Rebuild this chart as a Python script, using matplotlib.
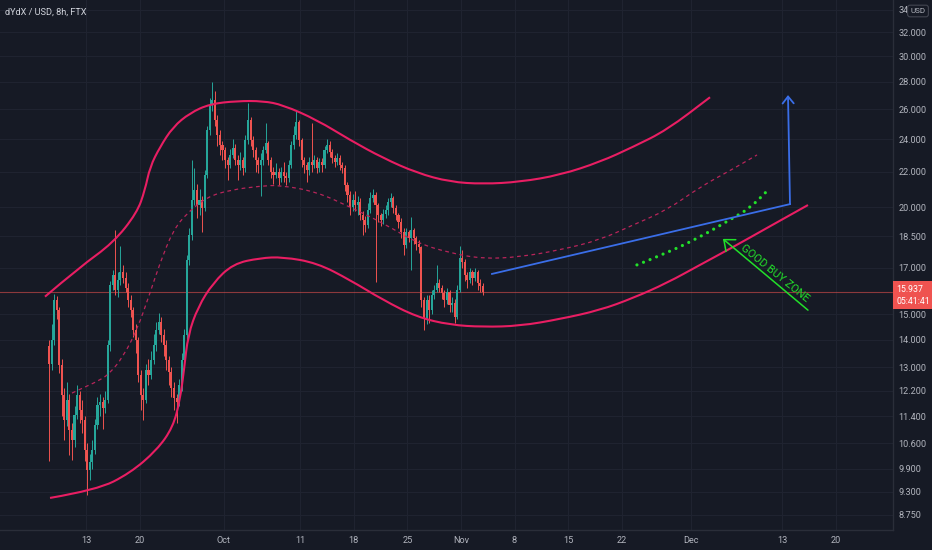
import matplotlib
matplotlib.use("Agg")  # headless backend: no display required
import matplotlib.pyplot as plt
from matplotlib.path import Path
from matplotlib.patches import PathPatch
from matplotlib.ticker import NullLocator, NullFormatter

# x axis unit: days since 2021-09-01 (8h candles start 2021-09-08 00:00)
first_candle_day = 7.0
candle_step = 1 / 3
first_open = 13.77

closes = [
    13.13, 13.99, 15.58, 15.16, 13.08, 12.07, 11.28, 11.91, 10.98, 10.69,
    11.44, 12.07, 11.59, 11.28, 10.41, 9.86, 10.08, 10.41, 11.13, 11.75,
    11.85, 11.65, 11.91, 13.80, 16.22, 16.66, 16.00, 16.44, 16.80, 16.53,
    16.09, 15.58, 15.16, 14.37, 13.99, 12.74, 12.07, 11.91, 12.91, 12.74,
    13.26, 13.80, 14.37, 14.68, 14.18, 13.80, 13.26, 12.84, 12.30, 11.97,
    11.85, 12.40, 13.26, 14.18, 17.35, 18.55, 20.38, 20.94, 20.11, 20.38,
    19.95, 21.80, 24.61, 26.32, 26.67, 25.28, 24.28, 23.64, 23.32, 22.70,
    22.40, 23.01, 23.45, 22.70, 22.40, 22.70, 22.22, 23.95, 25.28, 23.95,
    23.32, 22.70, 22.40, 22.70, 23.32, 23.76, 22.70, 21.98, 21.80, 21.98,
    21.63, 21.98, 21.74, 21.63, 22.40, 23.64, 24.28, 25.14, 23.95, 22.70,
    22.40, 22.10, 22.58, 22.40, 22.70, 22.22, 22.58, 22.40, 23.32, 23.64,
    23.20, 22.82, 22.58, 22.82, 22.40, 22.22, 21.22, 20.66, 20.00, 20.38,
    20.11, 20.27, 19.58, 19.32, 19.06, 19.84, 20.49, 20.66, 20.11, 19.58,
    19.32, 19.63, 19.84, 20.27, 20.49, 19.95, 19.58, 19.22, 18.71, 18.06,
    18.71, 18.41, 18.81, 18.41, 18.11, 17.96, 15.58, 14.84, 15.58, 15.16,
    15.79, 16.00, 16.31, 16.09, 15.87, 15.58, 15.92, 15.37, 15.46, 14.88,
    16.00, 17.44, 17.26, 16.66, 16.44, 16.80, 16.53, 16.80, 16.31, 16.18,
    15.937,
]
highs = [
    14.0, 14.6, 15.85, 15.75, 15.3, 13.3, 12.3, 12.5, 12.1, 11.2,
    11.7, 12.4, 12.2, 11.9, 11.4, 10.6, 10.3, 10.7, 11.3, 12.0,
    12.1, 12.0, 12.2, 14.0, 16.4, 16.9, 18.8, 16.8, 18.0, 17.1,
    16.8, 16.3, 15.8, 15.3, 14.6, 14.1, 12.9, 12.3, 13.1, 13.3,
    13.6, 14.2, 14.7, 15.04, 14.9, 14.4, 14.0, 13.4, 13.0, 12.5,
    12.1, 12.6, 13.5, 14.4, 17.6, 18.9, 22.7, 22.2, 21.3, 21.0,
    20.6, 22.1, 24.9, 26.8, 28.0, 27.3, 25.6, 24.6, 23.9, 23.5,
    22.9, 23.4, 24.0, 23.7, 23.0, 23.2, 22.9, 24.3, 26.46, 25.5,
    24.2, 23.5, 22.9, 23.1, 23.6, 25.07, 23.9, 22.9, 22.3, 22.5,
    22.2, 22.3, 22.6, 22.0, 22.7, 23.9, 24.9, 25.97, 25.3, 24.1,
    22.9, 22.6, 22.9, 25.07, 23.0, 22.9, 22.8, 22.8, 23.6, 24.0,
    23.9, 23.4, 23.0, 23.1, 23.0, 22.6, 22.4, 21.4, 20.9, 20.7,
    20.9, 20.6, 20.5, 19.8, 19.5, 20.2, 20.8, 21.0, 20.8, 20.2,
    19.7, 19.9, 20.1, 20.5, 20.77, 20.6, 20.1, 19.7, 19.4, 18.9,
    18.9, 18.8, 19.48, 18.9, 18.5, 18.3, 18.0, 15.7, 15.8, 15.8,
    16.0, 16.2, 17.12, 16.5, 16.2, 16.0, 16.1, 16.0, 15.7, 15.6,
    16.2, 18.0, 17.8, 17.4, 16.8, 17.0, 16.9, 17.0, 16.9, 16.5,
    16.3,
]
lows = [
    10.1, 12.9, 13.8, 14.8, 12.8, 11.4, 10.7, 11.1, 10.27, 10.13,
    10.5, 11.3, 11.2, 10.9, 10.1, 9.22, 9.6, 9.9, 10.3, 11.0,
    11.4, 11.0, 11.5, 11.8, 13.6, 16.0, 15.8, 15.7, 16.2, 16.3,
    15.9, 15.3, 14.9, 14.1, 13.5, 12.5, 11.6, 11.28, 11.8, 12.4,
    12.6, 13.1, 13.6, 14.2, 13.9, 13.4, 12.9, 12.4, 12.0, 11.6,
    11.2, 11.7, 12.2, 13.0, 14.0, 17.1, 18.3, 20.1, 19.4, 19.6,
    18.7, 19.8, 21.6, 24.3, 25.9, 24.9, 23.6, 23.0, 22.7, 22.2,
    21.5, 22.2, 22.8, 22.4, 21.5, 22.1, 21.8, 22.0, 23.7, 23.6,
    22.9, 22.0, 21.9, 20.6, 22.4, 23.1, 22.4, 21.6, 21.3, 21.6,
    21.2, 21.4, 21.4, 21.2, 21.4, 22.2, 23.4, 24.0, 23.6, 22.3,
    21.9, 21.4, 21.8, 22.0, 22.2, 21.9, 22.0, 22.0, 22.2, 23.1,
    22.9, 22.5, 22.3, 22.4, 22.1, 21.9, 20.9, 20.3, 19.6, 19.8,
    19.8, 19.6, 19.3, 18.55, 18.7, 18.9, 19.7, 20.3, 16.35, 19.2,
    19.0, 19.1, 19.4, 19.6, 20.0, 19.7, 19.3, 18.9, 18.4, 17.6,
    17.9, 18.2, 16.9, 18.1, 17.8, 17.7, 15.3, 14.37, 14.6, 14.65,
    15.0, 15.6, 15.9, 15.9, 15.6, 15.3, 15.4, 15.1, 15.1, 14.65,
    14.8, 15.9, 17.0, 16.4, 16.1, 16.3, 16.2, 16.4, 16.0, 15.9,
    15.8,
]
last_price = 15.937
countdown = "05:41:41"

price_ticks = [34, 32, 30, 28, 26, 24, 22, 20, 18.5, 17, 15, 14, 13,
               12.2, 11.4, 10.6, 9.9, 9.3, 8.75]
time_ticks = [12, 19, 30, 40, 47, 54, 61, 68, 75, 82, 91, 103, 110]
time_labels = ["13", "20", "Oct", "11", "18", "25", "Nov", "8", "15", "22",
               "Dec", "13", "20"]

# drawings (day, price)
upper_band_days = [6.64, 11.22, 15.53, 18.66, 19.71, 20.36, 21.67, 23.37,
                   25.59, 28.20, 31.73, 35.13, 37.74, 42.18, 46.50, 50.81,
                   55.25, 59.56, 63.88, 68.71, 73.94, 79.16, 83.48, 87.92, 93.54]
upper_band_prices = [15.72, 17.03, 18.16, 19.69, 20.94, 22.28, 23.51, 24.81,
                     25.76, 26.39, 26.60, 26.60, 26.32, 25.28, 23.95, 22.82,
                     21.92, 21.40, 21.28, 21.40, 21.80, 22.58, 23.51, 24.61, 26.87]
lower_band_days = [7.30, 13.44, 17.75, 21.28, 23.37, 24.28, 24.81, 25.33, 26.64,
                   28.60, 31.21, 34.74, 37.74, 42.18, 46.50, 50.81, 55.25,
                   59.56, 63.88, 68.71, 73.94, 79.16, 83.48, 87.92, 92.23,
                   96.54, 100.99, 106.34]
lower_band_prices = [9.15, 9.35, 9.78, 10.41, 11.07, 11.91, 12.91, 14.18, 15.29,
                     16.31, 17.17, 17.44, 17.49, 17.21, 16.44, 15.58, 14.88,
                     14.57, 14.49, 14.53, 14.80, 15.16, 15.66, 16.31, 17.12,
                     17.96, 18.91, 20.11]
mid_band_days = [10.17, 11.61, 13.83, 15.14, 16.83, 18.66, 20.36, 21.67, 23.37,
                 25.20, 27.81, 30.82, 34.74, 37.35, 42.18, 46.50, 50.81, 55.25,
                 59.56, 63.88, 68.71, 73.94, 79.16, 83.48, 87.92, 92.23, 96.54,
                 99.68]
mid_band_prices = [12.13, 12.30, 12.56, 12.80, 13.37, 14.37, 15.87, 17.21, 18.78,
                   19.68, 20.55, 20.94, 21.16, 21.22, 20.83, 20.00, 19.16, 18.16,
                   17.68, 17.40, 17.49, 17.82, 18.31, 19.06, 19.84, 21.11, 22.16,
                   23.01]
trend_days = [65.05, 103.99]
trend_prices = [16.71, 20.16]
target_days = [103.99, 103.73]
target_prices = [20.16, 27.03]
buy_dots_days = [83.99, 87.92, 92.23, 96.54, 98.77, 101.38]
buy_dots_prices = [17.12, 17.68, 18.45, 19.42, 19.95, 21.05]
buy_arrow_days = [106.34, 95.23]
buy_arrow_prices = [15.16, 18.36]
buy_text_day, buy_text_price = 102.0, 16.74

BG = "#161a25"
GRID = "#1f2330"
TEXT = "#b2b5be"
UP = "#26a69a"
DOWN = "#ef5350"
PINK = "#e91e63"
BLUE = "#3a6ee8"
GREEN = "#22e02a"
FONT = ["Roboto", "DejaVu Sans"]


def smooth_path(days, prices):
    # quadratic bezier through midpoints (geometric mean on the log axis)
    pts = list(zip(days, prices))
    verts = [pts[0]]
    codes = [Path.MOVETO]
    for i in range(1, len(pts) - 1):
        d0, p0 = pts[i]
        d1, p1 = pts[i + 1]
        verts += [pts[i], ((d0 + d1) / 2, (p0 * p1) ** 0.5)]
        codes += [Path.CURVE3, Path.CURVE3]
    verts.append(pts[-1])
    codes.append(Path.LINETO)
    return Path(verts, codes)


def draw_candles(ax):
    opens = [first_open] + closes[:-1]
    for i, (o, h, l, c) in enumerate(zip(opens, highs, lows, closes)):
        x = first_candle_day + candle_step * (i + 0.5)
        color = UP if c >= o else DOWN
        ax.vlines(x, l, h, color=color, lw=0.7, zorder=3)
        lo, hi = min(o, c), max(o, c)
        ax.bar(x, max(hi - lo, 0.04), bottom=lo, width=0.27, color=color,
               linewidth=0, zorder=4)


def draw_annotations(ax):
    ax.add_patch(PathPatch(smooth_path(upper_band_days, upper_band_prices),
                           fill=False, ec=PINK, lw=1.5, zorder=5))
    ax.add_patch(PathPatch(smooth_path(lower_band_days, lower_band_prices),
                           fill=False, ec=PINK, lw=1.5, zorder=5))
    ax.add_patch(PathPatch(smooth_path(mid_band_days, mid_band_prices),
                           fill=False, ec="#b8255a", lw=0.9, ls=(0, (3, 2.8)),
                           zorder=5))
    ax.add_patch(PathPatch(smooth_path(buy_dots_days, buy_dots_prices),
                           fill=False, ec=GREEN, lw=2.3, ls=(0, (0.01, 2.2)),
                           capstyle="round", zorder=6))

    ax.plot(trend_days, trend_prices, color=BLUE, lw=1.3, zorder=6)
    ax.annotate("", xy=(target_days[1], target_prices[1]),
                xytext=(target_days[0], target_prices[0]),
                arrowprops=dict(arrowstyle="->,head_length=0.5,head_width=0.4",
                                color=BLUE, lw=1.3, shrinkA=0, shrinkB=0,
                                mutation_scale=10), zorder=6)

    ax.annotate("", xy=(buy_arrow_days[1], buy_arrow_prices[1]),
                xytext=(buy_arrow_days[0], buy_arrow_prices[0]),
                arrowprops=dict(arrowstyle="->,head_length=0.6,head_width=0.5",
                                color=GREEN, lw=1.1, shrinkA=0, shrinkB=0,
                                mutation_scale=11), zorder=6)
    ax.text(buy_text_day, buy_text_price, "GOOD BUY ZONE", color=GREEN,
            fontsize=8, family=FONT, rotation=-39, rotation_mode="anchor",
            ha="center", va="center", zorder=7)

    ax.axhline(last_price, color=DOWN, lw=0.8, alpha=0.55, zorder=2)
    ax.annotate(f"{last_price:.3f}\n{countdown}", xy=(1.0, last_price),
                xycoords=("axes fraction", "data"), xytext=(2.5, 5.0),
                textcoords="offset points", ha="left", va="top", color="white",
                fontsize=6.3, family=FONT, linespacing=1.45,
                bbox=dict(boxstyle="square,pad=0.4", fc=DOWN, ec="none"),
                annotation_clip=False, zorder=8)


def main():
    fig = plt.figure(figsize=(9.32, 5.5), dpi=100, facecolor=BG)
    ax = fig.add_axes([0, 20 / 550, 893 / 932, 530 / 550], facecolor=BG)
    ax.set_yscale("log")
    ax.set_xlim(0.763, 117.45)
    ax.set_ylim(8.394, 34.90)

    ax.set_yticks(price_ticks)
    ax.set_yticklabels([f"{v:.3f}" for v in price_ticks])
    ax.yaxis.set_minor_locator(NullLocator())
    ax.yaxis.set_minor_formatter(NullFormatter())
    ax.yaxis.tick_right()
    ax.set_xticks(time_ticks)
    ax.set_xticklabels(time_labels)
    ax.tick_params(axis="y", length=0, pad=4, labelsize=6.6, colors=TEXT)
    ax.tick_params(axis="x", length=0, pad=4.5, labelsize=6.6, colors=TEXT)
    for lab in ax.get_xticklabels() + ax.get_yticklabels():
        lab.set_family(FONT)
    ax.grid(True, color=GRID, lw=0.8, zorder=0)
    ax.set_axisbelow(True)
    for side in ("top", "left"):
        ax.spines[side].set_visible(False)
    for side in ("right", "bottom"):
        ax.spines[side].set_color("#2a2e39")
        ax.spines[side].set_linewidth(1.0)

    draw_candles(ax)
    draw_annotations(ax)

    fig.text(5 / 932, 1 - 12 / 550, "dYdX / USD, 8h, FTX", color="#d1d4dc",
             fontsize=6.6, family=FONT, va="center", ha="left")
    fig.text(918 / 932, 1 - 11 / 550, "USD", color=TEXT, fontsize=5.8,
             family=FONT, va="center", ha="center",
             bbox=dict(boxstyle="round,pad=0.35,rounding_size=0.3", fc=BG,
                       ec="#434651", lw=0.8))

    fig.savefig("out.png", dpi=100, facecolor=BG)
    plt.close(fig)


if __name__ == "__main__":
    main()
